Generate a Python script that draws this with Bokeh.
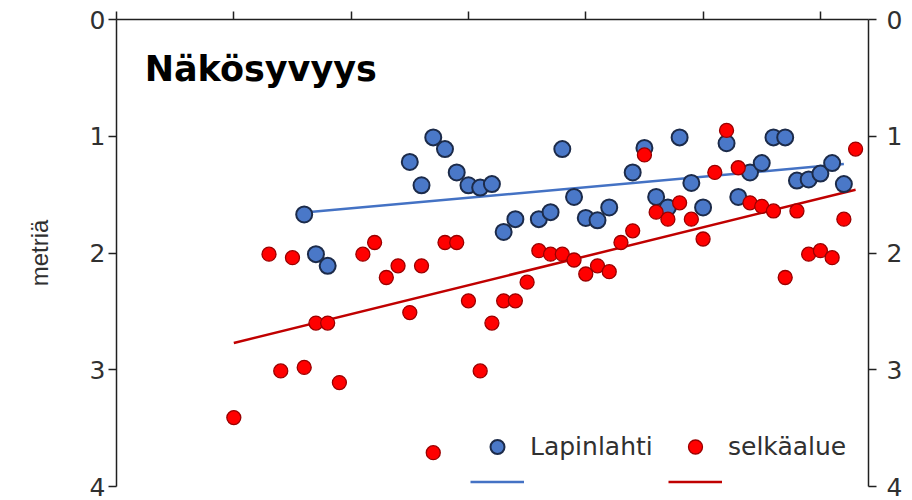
import numpy as np
from bokeh.plotting import figure
from bokeh.models import Range1d, LinearAxis, FixedTicker, Label, Legend, LegendItem
from bokeh.embed import file_html
from bokeh.resources import INLINE

# ---- data ----
lap_year = [1983.0, 1983.5, 1984.0, 1987.5, 1988.0, 1988.5, 1989.0, 1989.5, 1990.0, 1990.5,
            1991.0, 1991.5, 1992.0, 1993.0, 1993.5, 1994.0, 1994.5, 1995.0, 1995.5, 1996.0,
            1997.0, 1997.5, 1998.0, 1998.5, 1999.0, 1999.5, 2000.0, 2001.0, 2001.5, 2002.0,
            2002.5, 2003.0, 2003.5, 2004.0, 2004.5, 2005.0, 2005.5, 2006.0]
lap_depth = [1.67, 2.01, 2.11, 1.22, 1.42, 1.01, 1.11, 1.31, 1.42, 1.44,
             1.41, 1.82, 1.71, 1.71, 1.65, 1.11, 1.52, 1.70, 1.72, 1.61,
             1.31, 1.10, 1.52, 1.61, 1.01, 1.40, 1.61, 1.06, 1.52, 1.31,
             1.23, 1.01, 1.01, 1.38, 1.37, 1.32, 1.23, 1.41]

selka_year = [1980.0, 1981.5, 1982.0, 1982.5, 1983.0, 1983.5, 1984.0, 1984.5, 1985.5, 1986.0,
              1986.5, 1987.0, 1987.5, 1988.0, 1988.5, 1989.0, 1989.5, 1990.0, 1990.5, 1991.0,
              1991.5, 1992.0, 1992.5, 1993.0, 1993.5, 1994.0, 1994.5, 1995.0, 1995.5, 1996.0,
              1996.5, 1997.0, 1997.5, 1998.0, 1998.5, 1999.0, 1999.5, 2000.0, 2000.5, 2001.0,
              2001.5, 2002.0, 2002.5, 2003.0, 2003.5, 2004.0, 2004.5, 2005.0, 2005.5, 2006.0,
              2006.5]
selka_depth = [3.41, 2.01, 3.01, 2.04, 2.98, 2.60, 2.60, 3.11, 2.01, 1.91,
               2.21, 2.11, 2.51, 2.11, 3.71, 1.91, 1.91, 2.41, 3.01, 2.60,
               2.41, 2.41, 2.25, 1.98, 2.01, 2.01, 2.06, 2.18, 2.11, 2.16,
               1.91, 1.81, 1.16, 1.65, 1.71, 1.57, 1.71, 1.88, 1.31, 0.95,
               1.27, 1.57, 1.60, 1.64, 2.21, 1.64, 2.01, 1.98, 2.04, 1.71,
               1.11]

y_ticks = [0, 1, 2, 3, 4]
x_ticks = [1975, 1980, 1985, 1990, 1995, 2000, 2005]
title_text = "Näkösyvyys"
y_label = "metriä"
series_names = ["Lapinlahti", "selkäalue"]

# ---- linear trends ----
def trend(xs, ys):
    k, b = np.polyfit(xs, ys, 1)
    xx = [min(xs), max(xs)]
    return xx, [k * v + b for v in xx]

lap_tx, lap_ty = trend(lap_year, lap_depth)
sel_tx, sel_ty = trend(selka_year, selka_depth)

FONT = "DejaVu Sans"
TXT = "#303030"
AX = "#202020"

p = figure(width=912, height=500, x_range=Range1d(1975, 2007.05), y_range=Range1d(4, 0),
           output_backend="svg", toolbar_location=None, x_axis_location="above",
           min_border_left=116, min_border_right=44, min_border_top=19, min_border_bottom=14)
p.outline_line_color = None
p.xgrid.visible = False
p.ygrid.visible = False
p.background_fill_color = "white"
p.border_fill_color = "white"

# top axis: ticks only, no labels
xa = p.xaxis[0]
xa.ticker = FixedTicker(ticks=x_ticks)
xa.major_label_overrides = {t: "" for t in x_ticks}
xa.major_label_text_font_size = "6px"
xa.major_label_standoff = 0
xa.major_tick_out = 8
xa.major_tick_in = 0
xa.minor_tick_line_color = None
xa.axis_line_color = AX
xa.axis_line_width = 1.5
xa.major_tick_line_color = AX
xa.major_tick_line_width = 1.5

# left axis
ya = p.yaxis[0]
ya.ticker = FixedTicker(ticks=y_ticks)
ya.axis_label = y_label
ya.axis_label_text_font = "Liberation Sans"
ya.axis_label_text_font_style = "normal"
ya.axis_label_text_font_size = "24px"
ya.axis_label_text_color = TXT
ya.axis_label_standoff = 34

# right axis
ra = LinearAxis(ticker=FixedTicker(ticks=y_ticks))
p.add_layout(ra, "right")

for ax, so in [(ya, 3), (ra, 10)]:
    ax.major_label_text_font = FONT
    ax.major_label_text_font_size = "25px"
    ax.major_label_text_color = TXT
    ax.major_label_standoff = so
    ax.major_tick_out = 8
    ax.major_tick_in = 0
    ax.minor_tick_line_color = None
    ax.axis_line_color = AX
    ax.axis_line_width = 1.5
    ax.major_tick_line_color = AX
    ax.major_tick_line_width = 1.5

# trend lines
lap_line = p.line(lap_tx, lap_ty, line_color="#4472C4", line_width=2.5)
sel_line = p.line(sel_tx, sel_ty, line_color="#C00000", line_width=2.5)

# scatter points
lap_sc = p.scatter(lap_year, lap_depth, size=16, fill_color="#4A78C8",
                   line_color="#1C2B4A", line_width=2)
sel_sc = p.scatter(selka_year, selka_depth, size=14, fill_color="#FF0000",
                   line_color="#9A0000", line_width=1.3)

# title inside plot
p.add_layout(Label(x=1976.2, y=0.42, text=title_text, text_font=FONT,
                   text_font_style="bold", text_font_size="35px", text_color="#000000",
                   text_baseline="alphabetic", text_align="left"))

legend = Legend(items=[LegendItem(label=series_names[0], renderers=[lap_sc]),
                       LegendItem(label=series_names[1], renderers=[sel_sc]),
                       LegendItem(label="", renderers=[lap_line]),
                       LegendItem(label=" ", renderers=[sel_line])],
                orientation="horizontal", ncols=2,
                location=(354, -13), padding=0, margin=0, spacing=0,
                glyph_width=54, glyph_height=35, label_height=35, label_width=138,
                label_standoff=6,
                label_text_font=FONT, label_text_font_size="25px", label_text_color=TXT,
                border_line_color=None, background_fill_alpha=0)
p.add_layout(legend, "center")

open("out.html", "w").write(file_html(p, INLINE))
